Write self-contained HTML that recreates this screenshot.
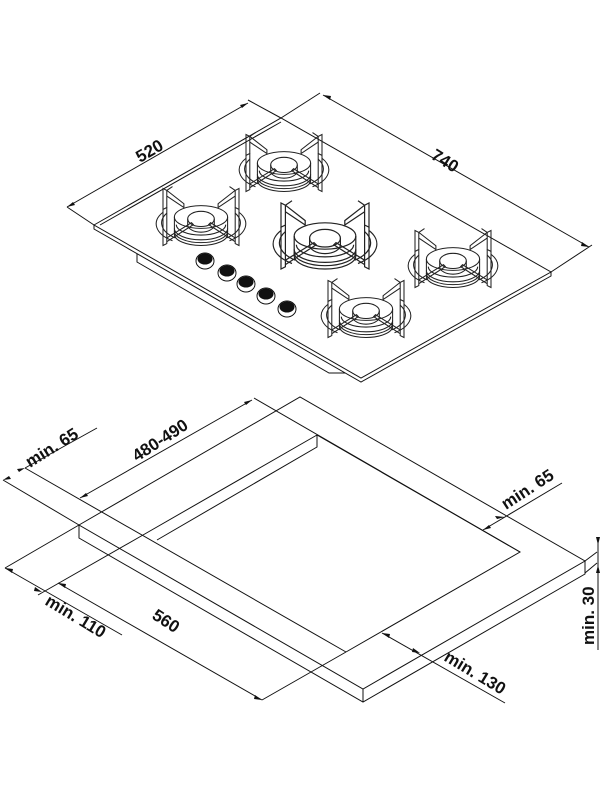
<!DOCTYPE html>
<html><head><meta charset="utf-8"><style>
html,body{margin:0;padding:0;background:#fff;}
svg{display:block}
text{font-family:"Liberation Sans",sans-serif;font-weight:bold;font-size:17px;fill:#111}
</style></head><body>
<svg width="600" height="800" viewBox="0 0 600 800" xmlns="http://www.w3.org/2000/svg">
<defs>
<g id="burner" fill="none" stroke="#222" stroke-width="1.1">
  <path d="M-40,-5 A42,22 0 0 0 -30,25 M40,-5 A42,22 0 0 1 30,25"/>
  <path d="M-36,-4 A38,20 0 0 0 -27,22 M36,-4 A38,20 0 0 1 27,22"/>
  <path d="M-28,0 L-28,18 A28,12 0 0 0 28,18 L28,0"/>
  <path d="M-28,12 A28,12 0 0 0 28,12 M-28,15 A28,12 0 0 0 28,15 M-26,8 A26,11 0 0 0 26,8"/>
  <ellipse cx="0" cy="0" rx="28" ry="12"/>
  <ellipse cx="0" cy="2" rx="14" ry="8"/>
  <path d="M-14,2 L-14,8 A14,8 0 0 0 14,8 L14,2"/>
  <path d="M-40,-30 L-40,-8 L-36,-10 L-36,-28 Z M-36,-28 L-18,-14 L-18,-10 L-36,-22"/>
  <path d="M40,-30 L40,-8 L36,-10 L36,-28 Z M36,-28 L18,-14 L18,-10 L36,-22"/>
  <path d="M-40,-8 L-40,30 L-36,28 L-36,-10"/>
  <path d="M40,-8 L40,30 L36,28 L36,-10"/>
  <path d="M-36,22 L-10,6 L-8,8 L-36,26 M36,22 L10,6 L8,8 L36,26"/>
  <path d="M-36,-28 L-30,-32 M36,-28 L30,-32"/>
</g>
</defs>
<g fill="none" stroke="#111" stroke-width="1">
<path d="M137,254 L137,262 L329,373 L345,373"/>
<path d="M94,225 L281,118 L551,272 L361,378 Z" fill="#fff"/>
<path d="M94,225 L94,229 L361,382 L551,276 L551,272"/>
<path d="M100,225 L281,122"/>
<path d="M67,207 L248,103 M94,225 L67,207 M281,118 L248,100"/>
<path d="M323,95 L589,247 M281,118 L320,93 M551,272 L592,245"/>
</g>
<g fill="#111">
<path d="M67,207 l8,-2 l-2,-3 z M248,103 l-8,2 l2,3 z"/>
<path d="M323,95 l7,5 l1,-4 z M589,247 l-7,-5 l-1,4 z"/>
</g>
<use href="#burner" transform="translate(201,217) scale(0.95)"/>
<use href="#burner" transform="translate(284,163) scale(0.95)"/>
<use href="#burner" transform="translate(325,236) scale(1.1)"/>
<use href="#burner" transform="translate(453,259) scale(0.95)"/>
<use href="#burner" transform="translate(366,309) scale(0.95)"/>
<g stroke="#111" stroke-width="1" fill="#fff">
<ellipse cx="205" cy="261" rx="9" ry="8"/><ellipse cx="205" cy="259" rx="7" ry="5" fill="#111"/>
<ellipse cx="227" cy="273" rx="9" ry="8"/><ellipse cx="227" cy="271" rx="7" ry="5" fill="#111"/>
<ellipse cx="246" cy="284" rx="9" ry="8"/><ellipse cx="246" cy="282" rx="7" ry="5" fill="#111"/>
<ellipse cx="266" cy="296" rx="9" ry="8"/><ellipse cx="266" cy="294" rx="7" ry="5" fill="#111"/>
<ellipse cx="287" cy="309" rx="9" ry="8"/><ellipse cx="287" cy="307" rx="7" ry="5" fill="#111"/>
</g>
<text transform="translate(140,163) rotate(-30)">520</text>
<text transform="translate(430,158) rotate(32)">740</text>

<!-- countertop -->
<g fill="none" stroke="#111" stroke-width="1">
<path d="M79,525 L300,397 L585,561 L363,689 Z" fill="#fff"/>
<path d="M79,525 L79,538 L363,702 L585,574 L585,561 M363,689 L363,702"/>
<!-- cutout -->
<path d="M317,435 L143,535 M317,435 L317,447 L157,540 M317,435 L520,552 L346,652"/>
<!-- extension lines -->
<path d="M3,480 L79,525 M25,468 L346,652 M97,428 L25,468"/>
<path d="M80,498 L252,400 M254,398 L520,552"/>
<path d="M5,568 L79,525 M38,595 L143,535"/>
<path d="M5,568 L122,635 M58,583 L262,700 M262,700 L346,652"/>
<path d="M382,633 L505,703"/>
<path d="M483,530 L562,483"/>
<path d="M598,537 L598,650 M585,561 L597,552 M585,573 L597,563"/>
</g>
<g fill="#111">
<path d="M3,480 l8,-1 l-2,-3 z M25,468 l-8,1 l2,3 z"/>
<path d="M80,498 l8,-2 l-2,-3 z M252,400 l-8,2 l2,3 z"/>
<path d="M5,568 l7,5 l1,-4 z M42,592 l-7,-5 l-1,4 z"/>
<path d="M58,583 l7,5 l1,-4 z M262,700 l-7,-5 l-1,4 z"/>
<path d="M382,633 l7,5 l1,-4 z M420,653 l-7,-5 l-1,4 z"/>
<path d="M483,530 l8,-2 l-2,-3 z M505,517 l-8,2 l-2,-3 z"/>
<path d="M598,545 l-2,-8 l4,0 z M598,565 l-2,8 l4,0 z"/>
</g>
<text transform="translate(30,468) rotate(-32)">min. 65</text>
<text transform="translate(137,462) rotate(-33)">480-490</text>
<text transform="translate(506,510) rotate(-33)">min. 65</text>
<text transform="translate(44,604) rotate(31)">min. 110</text>
<text transform="translate(151,618) rotate(33)">560</text>
<text transform="translate(443,660) rotate(31)">min. 130</text>
<text transform="translate(594,645) rotate(-90)">min. 30</text>
</svg>
</body></html>
